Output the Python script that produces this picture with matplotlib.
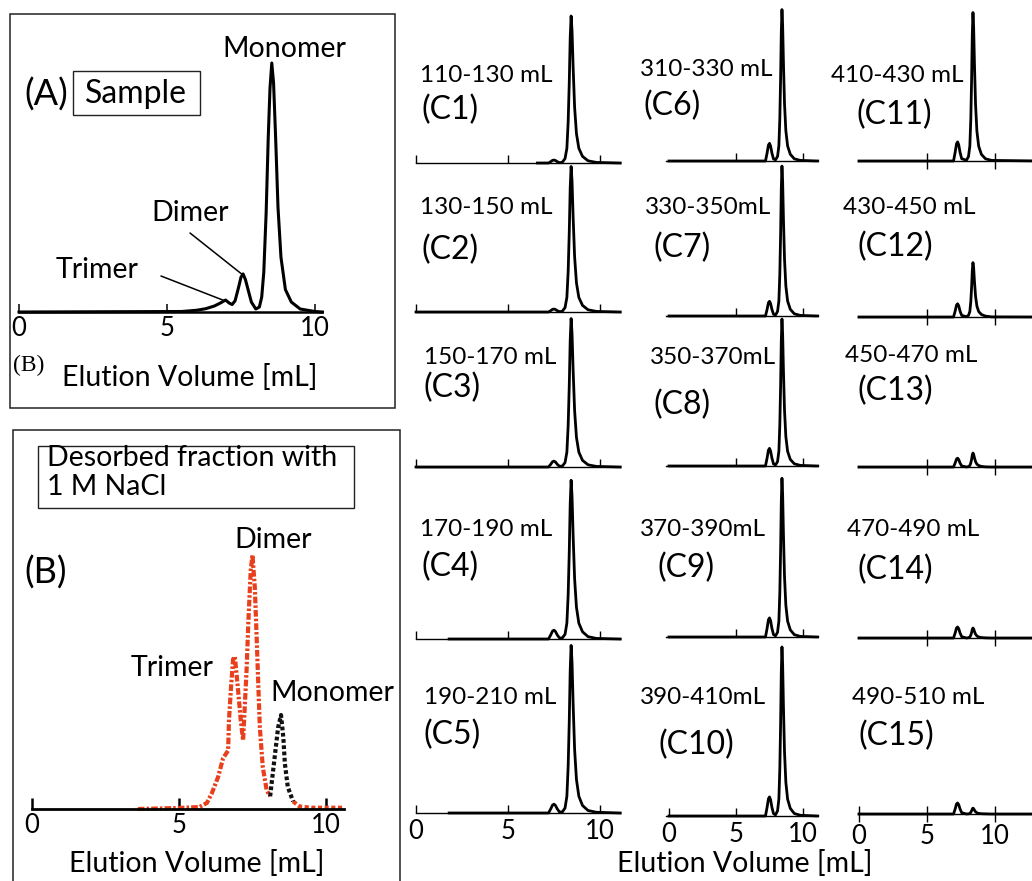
import numpy as np
import matplotlib
matplotlib.use("Agg")
import matplotlib.pyplot as plt
from matplotlib.patches import Rectangle

plt.rcParams['font.family'] = ['Lato', 'DejaVu Sans']

W, H = 1032, 881

# ---- (A) sample chromatogram: elution volume [mL], relative absorbance
a_vol = [0, 5.5, 6.0, 6.3, 6.6, 6.8, 6.98, 7.1, 7.2, 7.3, 7.42, 7.5, 7.57, 7.65, 7.75,
         7.85, 8.0, 8.12, 8.2, 8.27, 8.35, 8.42, 8.48, 8.54, 8.6, 8.67, 8.75, 8.85,
         9.0, 9.2, 9.5, 10.0, 10.25]
a_abs = [0, 0.2, 0.7, 1.3, 2.4, 3.6, 4.8, 3.6, 3.0, 4.5, 10, 14, 15.3, 13, 8.5,
         4, 1.2, 2, 6, 16, 40, 70, 90, 100, 92, 70, 42, 22,
         9, 4, 1.2, 0.2, 0]

# ---- (B) desorbed fraction with 1 M NaCl
b_red_vol = [3.6, 5.0, 5.7, 5.95, 6.12, 6.33, 6.5, 6.67, 6.7, 6.77, 6.84, 6.9, 7.0,
             7.1, 7.18, 7.3, 7.36, 7.44, 7.5, 7.58, 7.64, 7.7, 7.75, 7.85, 7.98, 8.1]
b_red_abs = [0, 0.4, 0.8, 2.4, 6.3, 12.6, 20, 23, 35, 48, 59, 60, 48,
             35, 27, 55, 74, 94, 100, 87, 68, 48, 32, 16.5, 7.5, 5]
b_tail_vol = [8.88, 9.1, 9.5, 10.0, 10.6]
b_tail_abs = [3, 1, 0.5, 0.5, 0.5]
b_mono_vol = [8.1, 8.27, 8.37, 8.47, 8.55, 8.6, 8.7, 8.88]
b_mono_abs = [5, 22, 32, 37, 28, 18, 8.7, 3]

# ---- (C) collected fractions, same absorbance scale for all
c_vol = [0, 1.8, 6.6, 7.2, 7.32, 7.42, 7.5, 7.58, 7.68, 7.8, 7.95, 8.1, 8.2, 8.27,
         8.33, 8.38, 8.43, 8.48, 8.54, 8.62, 8.72, 8.85, 9.05, 9.35, 9.8, 11.1]
c_vol_late = [0, 1.8, 6.4, 6.95, 7.07, 7.17, 7.25, 7.33, 7.43, 7.55, 7.9, 8.05, 8.15, 8.22,
              8.28, 8.33, 8.38, 8.43, 8.49, 8.57, 8.67, 8.8, 9.0, 9.3, 9.75, 13.5]
nan = np.nan
c1 = [nan, nan, 0, 0, 0.9, 1.8, 2.0, 1.7, 0.9, 0.2, 0.5, 3, 10, 28, 55, 85, 100, 90, 65, 38, 20, 10, 4.5, 1.5, 0.4, 0]
c2 = [0, 0, 0, 0, 0.9, 1.8, 2.0, 1.7, 0.9, 0.2, 0.5, 3, 9.9, 27.7, 54.5, 84.2, 99, 89.1, 64.4, 37.6, 19.8, 9.9, 4.5, 1.5, 0.4, 0]
c3 = [0, 0, 0, 0, 1.8, 3.6, 4, 3.4, 1.8, 0.5, 0.6, 3, 10.1, 28.3, 55.6, 85.9, 101, 90.9, 65.7, 38.4, 20.2, 10.1, 4.5, 1.5, 0.4, 0]
c4 = [nan, 0, 0, 0, 2.7, 5.4, 6, 5.1, 2.7, 0.7, 0.7, 3.2, 10.8, 30.2, 59.4, 91.8, 108, 97.2, 70.2, 41, 21.6, 10.8, 4.9, 1.6, 0.4, 0]
c5 = [nan, 0, 0, 0, 2.7, 5.4, 6, 5.1, 2.7, 0.7, 0.7, 3.4, 11.4, 31.9, 62.7, 96.9, 114, 102.6, 74.1, 43.3, 22.8, 11.4, 5.1, 1.7, 0.5, 0]
c6 = [0, 0, 0, 0, 5.4, 10.8, 12, 10.2, 5.4, 1.4, 0.8, 3.1, 10.3, 28.8, 56.7, 87.6, 103, 92.7, 67, 39.1, 20.6, 10.3, 4.6, 1.5, 0.4, 0]
c7 = [0, 0, 0, 0, 4.5, 9, 10, 8.5, 4.5, 1.2, 0.7, 3.1, 10.2, 28.6, 56.1, 86.7, 102, 91.8, 66.3, 38.8, 20.4, 10.2, 4.6, 1.5, 0.4, 0]
c8 = [0, 0, 0, 0, 5.4, 10.8, 12, 10.2, 5.4, 1.4, 0.7, 3, 10, 28, 55, 85, 100, 90, 65, 38, 20, 10, 4.5, 1.5, 0.4, 0]
c9 = [0, 0, 0, 0, 5.9, 11.7, 13, 11.1, 5.9, 1.6, 0.8, 3.2, 10.8, 30.2, 59.4, 91.8, 108, 97.2, 70.2, 41, 21.6, 10.8, 4.9, 1.6, 0.4, 0]
c10 = [0, 0, 0, 0, 5.9, 11.7, 13, 11.1, 5.9, 1.6, 0.8, 3.5, 11.5, 32.2, 63.3, 97.8, 115, 103.5, 74.8, 43.7, 23, 11.5, 5.2, 1.7, 0.5, 0]
c11 = [0, 0, 0, 0, 5.9, 11.7, 13, 11.1, 5.9, 1.6, 0.5, 3, 10.1, 28.3, 55.6, 85.9, 101, 90.9, 65.7, 38.4, 20.2, 10.1, 4.5, 1.5, 0.4, 0]
c12 = [0, 0, 0, 0, 4, 8.1, 9, 7.7, 4, 1.1, 0.2, 1.1, 3.7, 10.4, 20.4, 31.5, 37, 33.3, 24.1, 14.1, 7.4, 3.7, 1.7, 0.6, 0.1, 0]
c13 = [0, 0, 0, 0, 2.7, 5.4, 6, 5.1, 2.7, 0.7, 0, 0.3, 1, 2.7, 5.2, 8.1, 9.5, 8.6, 6.2, 3.6, 1.9, 1, 0.4, 0.1, 0, 0]
c14 = [0, 0, 0, 0, 3.4, 6.8, 7.5, 6.4, 3.4, 0.9, 0, 0.2, 0.7, 1.9, 3.7, 5.8, 6.8, 6.1, 4.4, 2.6, 1.4, 0.7, 0.3, 0.1, 0, 0]
c15 = [0, 0, 0, 0, 3.4, 6.8, 7.5, 6.4, 3.4, 0.9, 0, 0.1, 0.4, 1.1, 2.2, 3.4, 4, 3.6, 2.6, 1.5, 0.8, 0.4, 0.2, 0.1, 0, 0]

fractions = ['110-130 mL', '130-150 mL', '150-170 mL', '170-190 mL', '190-210 mL',
             '310-330 mL', '330-350mL', '350-370mL', '370-390mL', '390-410mL',
             '410-430 mL', '430-450 mL', '450-470 mL', '470-490 mL', '490-510 mL']
c_traces = [c1, c2, c3, c4, c5, c6, c7, c8, c9, c10, c11, c12, c13, c14, c15]

fig = plt.figure(figsize=(W / 100, H / 100), dpi=100)


def put(x, y, s, size, **kw):
    kw.setdefault('ha', 'center')
    kw.setdefault('va', 'center')
    return fig.text(x / W, 1 - y / H, s, fontsize=size, **kw)


def box(x0, y0, x1, y1, lw=1.0):
    fig.patches.append(Rectangle((x0 / W, 1 - y1 / H), (x1 - x0) / W, (y1 - y0) / H,
                                 transform=fig.transFigure, fill=False, lw=lw,
                                 ec='#222222'))


def axes_at(x0, ppm, xmin, xmax, base, height, ymax):
    # x0: pixel of 0 mL, ppm: pixels per mL
    left = x0 + xmin * ppm
    right = x0 + xmax * ppm
    ax = fig.add_axes([left / W, 1 - base / H, (right - left) / W, height / H])
    ax.set_xlim(xmin, xmax)
    ax.set_ylim(0, ymax)
    ax.patch.set_visible(False)
    for s in ('top', 'right', 'left'):
        ax.spines[s].set_visible(False)
    ax.set_yticks([])
    ax.set_xticks([0, 5, 10])
    return ax


# ---------------- panel A
box(10, 14, 395, 408, lw=1.1)
axA = axes_at(19, 29.6, 0, 10.25, 312, 262, 262 / 2.49)
axA.plot(a_vol, a_abs, color='black', lw=2.2, clip_on=False)
axA.spines['bottom'].set_linewidth(1.8)
axA.tick_params(axis='x', direction='in', length=6, width=1.1, pad=3, labelsize=18.5)
axA.annotate('', xy=(7.55, 15), xytext=(190, H - 233), textcoords='figure pixels',
             arrowprops=dict(arrowstyle='-', lw=1.1, color='black', shrinkA=0, shrinkB=0))
axA.annotate('', xy=(6.95, 4.5), xytext=(161, H - 276), textcoords='figure pixels',
             arrowprops=dict(arrowstyle='-', lw=1.1, color='black', shrinkA=0, shrinkB=0))
put(284, 49, 'Monomer', 20.5)
put(46, 95, '(A)', 26)
box(73, 71, 200, 115, lw=1.0)
put(136, 94, 'Sample', 23)
put(190, 213, 'Dimer', 20.5)
put(97, 270, 'Trimer', 20.5)
put(29, 365, '(B)', 17, family='Liberation Serif')
put(190, 377, 'Elution Volume [mL]', 20.5)

# ---------------- panel B
box(13, 430, 400, 900, lw=1.1)
axB = axes_at(32, 29.4, 0, 10.6, 809, 262, 262 / 2.54)
axB.spines['bottom'].set_linewidth(2.0)
axB.tick_params(axis='x', direction='in', length=8, width=1.8, pad=3, labelsize=18.5)
axB.plot(b_red_vol, b_red_abs, color='#e8401c', lw=3.0, ls=(0, (1.6, 0.5, 0.6, 0.5)),
         clip_on=False)
axB.plot(b_tail_vol, b_tail_abs, color='#e8401c', lw=3.0, ls=(0, (1.0, 0.6)), clip_on=False)
axB.plot(b_mono_vol, b_mono_abs, color='#111111', lw=3.0, ls=(0, (0.9, 0.6)), clip_on=False)
box(38, 446, 354, 508, lw=1.0)
put(47, 458, 'Desorbed fraction with', 20.5, ha='left')
put(47, 487, '1 M NaCl', 20.5, ha='left')
put(46, 573, '(B)', 26)
put(273, 540, 'Dimer', 20.5)
put(172, 668, 'Trimer', 20.5)
put(332, 693, 'Monomer', 20.5)
put(197, 863, 'Elution Volume [mL]', 20.5)

# ---------------- panels C1-C15
col_x0 = [416, 669, 859]
col_ppm = [18.4, 13.4, 13.6]
col_lim = [(0, 11.1), (-0.2, 11.0), (-0.1, 13.5)]
bases = [[163, 312, 467, 639, 813],
         [161, 316, 466, 637, 816],
         [161, 317, 467, 638, 814]]
range_pos = [(486, 75), (486, 208), (490, 358), (486, 530), (490, 697),
             (706, 70), (708, 208), (713, 358), (703, 530), (703, 697),
             (897, 75), (909, 208), (911, 356), (913, 530), (918, 697)]
tag_pos = [(450, 110), (450, 250), (452, 388), (450, 567), (452, 735),
           (672, 106), (682, 248), (682, 405), (686, 568), (696, 745),
           (894, 115), (895, 247), (895, 391), (895, 570), (896, 736)]

c_height = 180
for i, trace in enumerate(c_traces):
    col, row = divmod(i, 5)
    lo, hi = col_lim[col]
    ax = axes_at(col_x0[col], col_ppm[col], lo, hi, bases[col][row], c_height, c_height / 1.47)
    vol = c_vol_late if col == 2 else c_vol
    ax.plot(vol, trace, color='black', lw=2.0, clip_on=False)
    ax.spines['bottom'].set_linewidth(1.0)
    ax.tick_params(axis='x', direction='inout' if col == 2 else 'in',
                   length=12 if col == 2 else 6, width=1.0, pad=4 if col < 2 else 1,
                   labelsize=18.5, labelbottom=(row == 4))
    if col != 0:
        ax.set_xticks([5, 10])
        if row == 4:
            ax.set_xticks([0, 5, 10])
    put(*range_pos[i], fractions[i], 17.5)
    put(*tag_pos[i], '(C%d)' % (i + 1), 23)

put(745, 863, 'Elution Volume [mL]', 20.5)

fig.savefig('out.png', dpi=100)
